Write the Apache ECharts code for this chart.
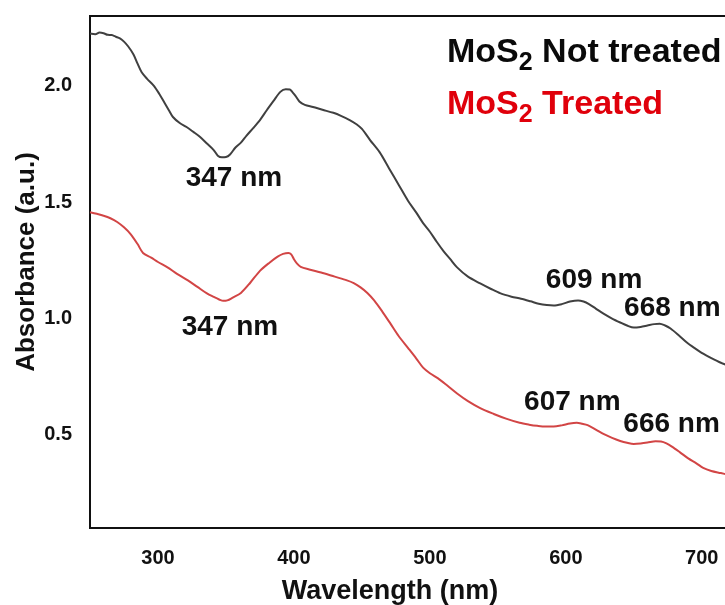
<!DOCTYPE html>
<html>
<head>
<meta charset="utf-8">
<script src="https://cdn.jsdelivr.net/npm/echarts@6/dist/echarts.min.js"></script>
<style>
html,body{margin:0;padding:0;background:#fff;}
#c{width:725px;height:605px;}
</style>
</head>
<body>
<div id="c"></div>
<script>
// ---- data ----
const untreatedNm = [250,254,257,260,263,266,269,272,275,278,282,285,288,292,297,301,305,308,311,316,321,326,331,336,341,344,347,350,353,357,361,365,370,375,380,385,390,394,397,399,401,404,408,414,421,429,435,441,446,450,456,463,470,477,484,490,495,500,505,510,515,520,528,537,545,552,560,567,574,580,586,591,597,603,609,613,617,622,628,634,640,645,650,655,660,665,669,673,677,683,689,695,701,707,714,720];
const untreatedAbs = [2.225,2.222,2.229,2.226,2.219,2.218,2.211,2.204,2.190,2.170,2.135,2.095,2.058,2.030,2.000,1.965,1.925,1.895,1.866,1.840,1.823,1.802,1.780,1.752,1.724,1.700,1.693,1.694,1.705,1.735,1.756,1.785,1.818,1.853,1.895,1.935,1.974,1.985,1.984,1.972,1.958,1.933,1.918,1.909,1.897,1.884,1.870,1.853,1.835,1.815,1.767,1.715,1.645,1.575,1.505,1.455,1.410,1.373,1.330,1.290,1.255,1.220,1.180,1.151,1.127,1.108,1.094,1.085,1.074,1.064,1.058,1.056,1.062,1.073,1.078,1.073,1.062,1.043,1.020,1.000,0.983,0.970,0.961,0.964,0.970,0.976,0.978,0.970,0.957,0.928,0.897,0.872,0.849,0.830,0.810,0.797];

const treatedNm = [250,255,260,265,270,275,280,285,289,295,300,307,314,322,329,336,341,345,348,351,355,361,368,375,382,388,392,396,398,400,402,405,412,420,430,439,444,449,454,459,465,471,477,484,490,495,500,506,513,520,528,537,547,556,566,573,579,585,591,597,603,608,612,616,622,628,634,640,645,650,655,660,666,670,674,678,684,690,696,701,707,714,720];
const treatedAbs = [1.457,1.450,1.442,1.431,1.415,1.392,1.362,1.320,1.282,1.262,1.243,1.220,1.192,1.164,1.136,1.108,1.093,1.082,1.076,1.078,1.090,1.110,1.155,1.205,1.240,1.266,1.278,1.282,1.276,1.255,1.238,1.222,1.210,1.198,1.180,1.164,1.152,1.134,1.110,1.078,1.030,0.978,0.925,0.873,0.828,0.789,0.765,0.743,0.711,0.678,0.645,0.615,0.590,0.570,0.552,0.544,0.539,0.536,0.536,0.541,0.549,0.552,0.548,0.542,0.523,0.503,0.487,0.474,0.466,0.461,0.463,0.467,0.473,0.472,0.464,0.450,0.425,0.399,0.378,0.358,0.345,0.336,0.328];

const untreatedPeaks = [347, 609, 668];
const treatedPeaks = [347, 607, 666];

const xTicks = [300, 400, 500, 600, 700];
const yTicks = [0.5, 1.0, 1.5, 2.0];

const seriesNames = ['MoS2 Not treated', 'MoS2 Treated'];

// ---- helpers ----
function pairs(xs, ys){ return xs.map((x,i)=>[x, ys[i]]); }
function valueAt(xs, ys, x){
  let best = 0;
  for (let i=1;i<xs.length;i++){ if (Math.abs(xs[i]-x) < Math.abs(xs[best]-x)) best = i; }
  return ys[best];
}
const FONT = "'Liberation Sans', Arial, sans-serif";
const labelStyle = {fontFamily: FONT, fontWeight: 'bold', fontSize: 28, color: '#111'};

function peakMarks(xs, ys, peaks, offsets){
  return {
    symbol: 'circle', symbolSize: 1, silent: true,
    itemStyle: {color: 'rgba(0,0,0,0)'},
    data: peaks.map((p,i)=>({
      coord: [p, valueAt(xs, ys, p)],
      label: Object.assign({show: true, position: 'inside', formatter: p + ' nm', offset: offsets[i]}, labelStyle)
    }))
  };
}

const chart = echarts.init(document.getElementById('c'), null, {renderer: 'canvas'});

function legendText(name, color, top){
  const parts = name.split('2');
  return {
    type: 'text', left: 447, top: top, silent: true,
    style: {
      text: '{m|' + parts[0] + '}{s|2}{m|' + parts[1] + '}',
      fill: color,
      rich: {
        m: {fontFamily: FONT, fontWeight: 'bold', fontSize: 34, lineHeight: 40, verticalAlign: 'top', fill: color},
        s: {fontFamily: FONT, fontWeight: 'bold', fontSize: 25, lineHeight: 14, verticalAlign: 'bottom', fill: color}
      }
    }
  };
}

chart.setOption({
  animation: false,
  backgroundColor: '#fff',
  grid: {
    left: 90, top: 16, bottom: 77, width: 639,
    containLabel: false, outerBoundsMode: 'none',
    show: true, borderColor: '#111', borderWidth: 2
  },
  xAxis: {
    type: 'value', min: 250, max: 720,
    axisLine: {show: false}, axisTick: {show: false}, splitLine: {show: false},
    axisLabel: {
      customValues: xTicks, margin: 20,
      fontFamily: FONT, fontWeight: 'bold', fontSize: 20, color: '#111'
    }
  },
  yAxis: {
    type: 'value', min: 0.1, max: 2.3,
    axisLine: {show: false}, axisTick: {show: false}, splitLine: {show: false},
    axisLabel: {
      customValues: yTicks, margin: 18,
      formatter: v => v.toFixed(1),
      fontFamily: FONT, fontWeight: 'bold', fontSize: 20, color: '#111'
    }
  },
  series: [
    {
      name: seriesNames[0], type: 'line', showSymbol: false, smooth: 0.3,
      data: pairs(untreatedNm, untreatedAbs),
      lineStyle: {color: '#404040', width: 2}, itemStyle: {color: '#404040'},
      markPoint: peakMarks(untreatedNm, untreatedAbs, untreatedPeaks, [[12,21],[16,-20],[14,-15]])
    },
    {
      name: seriesNames[1], type: 'line', showSymbol: false, smooth: 0.3,
      data: pairs(treatedNm, treatedAbs),
      lineStyle: {color: '#d24545', width: 2}, itemStyle: {color: '#d24545'},
      markPoint: peakMarks(treatedNm, treatedAbs, treatedPeaks, [[8,26],[-3,-21],[16,-17]])
    }
  ],
  graphic: [
    legendText(seriesNames[0], '#0a0a0a', 36),
    legendText(seriesNames[1], '#e0000b', 88),
    {
      type: 'text', x: 390, y: 592, silent: true,
      style: {text: 'Wavelength (nm)', fontFamily: FONT, fontWeight: 'bold', fontSize: 27, fill: '#111', align: 'center', verticalAlign: 'middle'}
    },
    {
      type: 'text', x: 27, y: 262, rotation: Math.PI/2, silent: true,
      style: {text: 'Absorbance (a.u.)', fontFamily: FONT, fontWeight: 'bold', fontSize: 26, fill: '#111', align: 'center', verticalAlign: 'middle'}
    }
  ]
});
</script>
</body>
</html>
